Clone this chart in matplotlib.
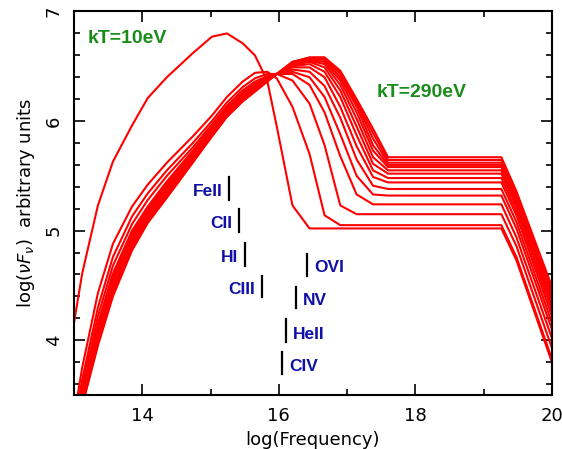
import numpy as np
import matplotlib
matplotlib.use('Agg')
import matplotlib.pyplot as plt
from matplotlib.ticker import MultipleLocator

# common frequency grid (log nu)
x = [13.0, 13.12, 13.35, 13.57, 13.85, 14.08, 14.36, 14.74, 15.02, 15.24, 15.47, 15.65,
     15.83, 15.97, 16.2, 16.45, 16.67, 16.9, 17.14, 17.38, 17.6, 19.26, 19.48, 20.0]

# log(nu F_nu) for each temperature, kT=10eV first, kT=290eV last
c0 = [4.16, 4.61, 5.23, 5.63, 5.96, 6.21, 6.40, 6.62, 6.77, 6.80, 6.71, 6.60,
      6.37, 5.95, 5.23, 5.02, 5.02, 5.02, 5.02, 5.02, 5.02, 5.02, 4.73, 3.80]
c1 = [3.30, 3.75, 4.43, 4.88, 5.22, 5.42, 5.62, 5.86, 6.05, 6.22, 6.36, 6.44,
      6.45, 6.39, 6.13, 5.70, 5.14, 5.05, 5.05, 5.05, 5.05, 5.05, 4.76, 3.83]
c2 = [3.22, 3.64, 4.30, 4.76, 5.13, 5.34, 5.55, 5.80, 6.00, 6.17, 6.31, 6.39,
      6.43, 6.43, 6.37, 6.16, 5.78, 5.23, 5.15, 5.15, 5.15, 5.15, 4.86, 3.93]
c3 = [3.18, 3.58, 4.22, 4.68, 5.06, 5.28, 5.50, 5.76, 5.97, 6.14, 6.28, 6.36,
      6.41, 6.43, 6.43, 6.33, 6.08, 5.68, 5.33, 5.24, 5.24, 5.24, 4.94, 4.02]
c4 = [3.15, 3.54, 4.15, 4.61, 5.00, 5.22, 5.45, 5.73, 5.95, 6.12, 6.26, 6.34,
      6.40, 6.43, 6.45, 6.40, 6.22, 5.88, 5.50, 5.33, 5.32, 5.32, 5.02, 4.10]
c5 = [3.14, 3.52, 4.13, 4.59, 4.98, 5.20, 5.43, 5.72, 5.94, 6.11, 6.25, 6.33,
      6.40, 6.43, 6.47, 6.45, 6.32, 6.03, 5.65, 5.41, 5.38, 5.38, 5.08, 4.16]
c6 = [3.13, 3.50, 4.11, 4.57, 4.96, 5.19, 5.42, 5.71, 5.93, 6.10, 6.24, 6.32,
      6.39, 6.43, 6.49, 6.49, 6.40, 6.13, 5.77, 5.49, 5.44, 5.44, 5.14, 4.22]
c7 = [3.12, 3.48, 4.09, 4.54, 4.94, 5.17, 5.40, 5.69, 5.92, 6.09, 6.23, 6.31,
      6.39, 6.43, 6.50, 6.52, 6.45, 6.22, 5.87, 5.55, 5.48, 5.48, 5.18, 4.27]
c8 = [3.11, 3.46, 4.07, 4.52, 4.92, 5.15, 5.38, 5.68, 5.91, 6.08, 6.22, 6.30,
      6.38, 6.43, 6.51, 6.54, 6.49, 6.28, 5.95, 5.61, 5.52, 5.52, 5.22, 4.31]
c9 = [3.10, 3.45, 4.05, 4.50, 4.90, 5.14, 5.37, 5.67, 5.90, 6.07, 6.21, 6.30,
      6.38, 6.43, 6.52, 6.55, 6.52, 6.33, 6.02, 5.67, 5.55, 5.55, 5.25, 4.35]
c10 = [3.09, 3.44, 4.03, 4.48, 4.88, 5.12, 5.35, 5.66, 5.89, 6.06, 6.20, 6.29,
       6.37, 6.43, 6.52, 6.56, 6.54, 6.37, 6.08, 5.73, 5.58, 5.58, 5.28, 4.39]
c11 = [3.08, 3.43, 4.01, 4.46, 4.86, 5.11, 5.34, 5.65, 5.88, 6.06, 6.20, 6.28,
       6.37, 6.43, 6.53, 6.57, 6.56, 6.40, 6.13, 5.78, 5.60, 5.60, 5.30, 4.42]
c12 = [3.07, 3.42, 3.99, 4.44, 4.85, 5.09, 5.32, 5.64, 5.87, 6.05, 6.19, 6.28,
       6.37, 6.43, 6.53, 6.57, 6.57, 6.43, 6.16, 5.84, 5.62, 5.62, 5.32, 4.45]
c13 = [3.06, 3.41, 3.97, 4.42, 4.83, 5.08, 5.31, 5.63, 5.86, 6.04, 6.18, 6.27,
       6.36, 6.43, 6.54, 6.58, 6.58, 6.45, 6.18, 5.89, 5.645, 5.645, 5.34, 4.47]
c14 = [3.05, 3.40, 3.95, 4.40, 4.82, 5.07, 5.30, 5.62, 5.86, 6.04, 6.18, 6.27,
       6.36, 6.43, 6.54, 6.58, 6.58, 6.46, 6.20, 5.93, 5.67, 5.67, 5.36, 4.49]
curves = [c0, c1, c2, c3, c4, c5, c6, c7, c8, c9, c10, c11, c12, c13, c14]

# ion edge labels: name, x of marker, y bottom, y top
ions = ['FeII', 'CII', 'HI', 'CIII', 'OVI', 'NV', 'HeII', 'CIV']
ion_x = [15.27, 15.42, 15.50, 15.75, 16.42, 16.25, 16.10, 16.05]
ion_y0 = [5.28, 4.99, 4.68, 4.39, 4.59, 4.29, 3.98, 3.69]
ion_y1 = [5.49, 5.20, 4.89, 4.59, 4.79, 4.49, 4.19, 3.89]
ion_side = ['left', 'left', 'left', 'left', 'right', 'right', 'right', 'right']

fig = plt.figure(figsize=(5.62, 4.49), dpi=100)
ax = fig.add_axes([0.1317, 0.1203, 0.8503, 0.8541])

for c in curves:
    ax.plot(x, c, color='#ff0000', lw=1.5, clip_on=True)

for name, xi, y0, y1, side in zip(ions, ion_x, ion_y0, ion_y1, ion_side):
    ax.plot([xi, xi], [y0, y1], color='black', lw=1.6)
    ym = (y0 + y1) / 2 - 0.03
    if side == 'left':
        ax.text(xi - 0.1, ym, name, ha='right', va='center', color='#1010a8',
                fontsize=12.5, fontweight='bold', family='Liberation Sans')
    else:
        ax.text(xi + 0.1, ym, name, ha='left', va='center', color='#1010a8',
                fontsize=12.5, fontweight='bold', family='Liberation Sans')

ax.text(13.2, 6.75, 'kT=10eV', color='#1a8c1a', fontsize=14, fontweight='bold',
        family='Liberation Sans', va='center')
ax.text(17.43, 6.265, 'kT=290eV', color='#1a8c1a', fontsize=14, fontweight='bold',
        family='Liberation Sans', va='center')

ax.set_xlim(13, 20)
ax.set_ylim(3.5, 7)
ax.xaxis.set_major_locator(MultipleLocator(2))
ax.xaxis.set_minor_locator(MultipleLocator(1))
ax.yaxis.set_major_locator(MultipleLocator(1))
ax.yaxis.set_minor_locator(MultipleLocator(0.2))
ax.tick_params(which='both', direction='in', top=True, right=True, width=1.2,
               labelsize=13)
ax.tick_params(which='major', length=8)
ax.tick_params(which='minor', length=4)
ax.tick_params(axis='x', pad=9)
ax.tick_params(axis='y', pad=8)
for lab in ax.get_yticklabels():
    lab.set_rotation(90)
    lab.set_va('center')
for s in ax.spines.values():
    s.set_linewidth(1.5)

ax.set_xlabel('log(Frequency)', fontsize=13, labelpad=4)
ax.set_ylabel(r'log($\nu F_\nu$)  arbitrary units', fontsize=13, labelpad=6)

fig.savefig('out.png', dpi=100)
